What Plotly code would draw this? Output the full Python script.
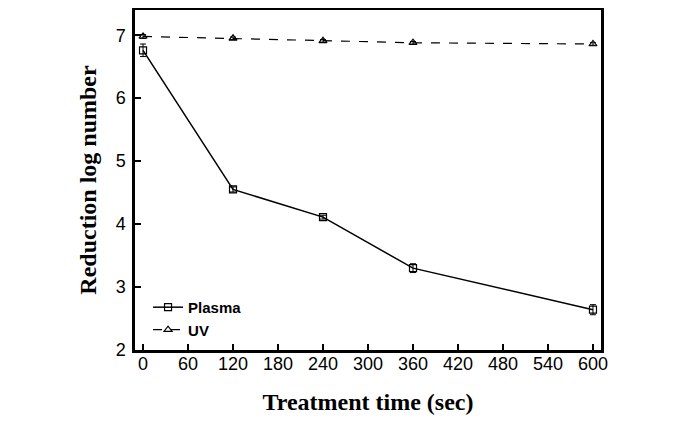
import plotly.graph_objects as go

time_sec = [0, 120, 240, 360, 600]
plasma = [6.76, 4.55, 4.11, 3.30, 2.64]
plasma_err = [0.10, 0.04, 0.03, 0.07, 0.08]
uv = [6.98, 6.95, 6.91, 6.88, 6.86]
uv_err = [0.03, 0.02, 0.02, 0.02, 0.02]
x_ticks = [0, 60, 120, 180, 240, 300, 360, 420, 480, 540, 600]
y_ticks = [2, 3, 4, 5, 6, 7]

fig = go.Figure()
fig.add_trace(go.Scatter(
    x=time_sec, y=plasma, name="Plasma", mode="lines+markers",
    line=dict(color="black", width=1.5),
    marker=dict(symbol="square-open", size=7, color="black", line=dict(width=1.2)),
    error_y=dict(type="data", array=plasma_err, color="black", thickness=1, width=3),
))
fig.add_trace(go.Scatter(
    x=time_sec, y=uv, name="UV", mode="lines+markers",
    line=dict(color="black", width=1.2, dash="dash"),
    marker=dict(symbol="triangle-up-open", size=7, color="black", line=dict(width=1.2)),
    error_y=dict(type="data", array=uv_err, color="black", thickness=1, width=3),
))

fig.update_layout(
    width=680, height=420,
    margin=dict(l=127, r=87, t=2, b=78),
    plot_bgcolor="white", paper_bgcolor="white",
    showlegend=True,
    legend=dict(x=0.028, y=0.012, xanchor="left", yanchor="bottom",
                bgcolor="rgba(0,0,0,0)",
                font=dict(family="Liberation Sans, Arial", size=15, color="black", weight="bold"),
                itemwidth=30, tracegroupgap=0),
    xaxis=dict(
        range=[-10.7, 610.7], tickvals=x_ticks, ticks="inside", ticklen=6, tickwidth=2,
        tickcolor="black", showline=True, linecolor="black", linewidth=2.5, mirror=True,
        showgrid=False, zeroline=False, automargin=False, ticklabelstandoff=-4,
        tickfont=dict(family="Liberation Sans, Arial", size=18, color="black"),
        title=dict(text="Treatment time (sec)", standoff=20,
                   font=dict(family="Liberation Serif, Times New Roman", size=24, color="black", weight="bold")),
    ),
    yaxis=dict(
        range=[2, 7.4], tickvals=y_ticks, ticks="inside", ticklen=6, tickwidth=2,
        tickcolor="black", showline=True, linecolor="black", linewidth=2.5, mirror=True,
        showgrid=False, zeroline=False, automargin=False, ticklabelstandoff=3,
        tickfont=dict(family="Liberation Sans, Arial", size=18, color="black"),
        title=dict(text="Reduction log number", standoff=13,
                   font=dict(family="Liberation Serif, Times New Roman", size=24, color="black", weight="bold")),
    ),
)

fig.write_html("out.html")
